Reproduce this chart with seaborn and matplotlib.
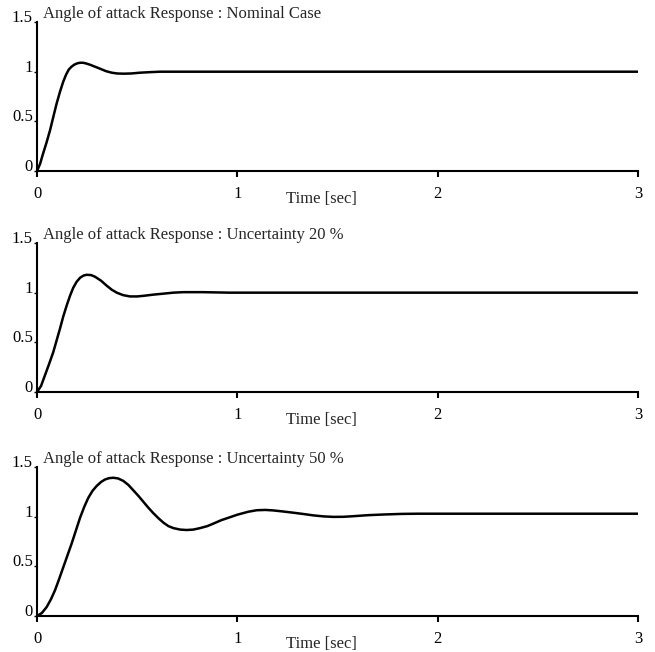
import pandas as pd
import seaborn as sns
import matplotlib
matplotlib.use("Agg")
import matplotlib.pyplot as plt

t_nominal = [0, 0.015, 0.031, 0.048, 0.065, 0.082, 0.098, 0.115, 0.131, 0.145, 0.158,
             0.172, 0.187, 0.202, 0.215, 0.23, 0.245, 0.265, 0.29, 0.315, 0.345,
             0.373, 0.40, 0.431, 0.47, 0.514, 0.56, 0.614, 0.8, 1.2, 1.6, 2.0, 2.5, 3.0]
v_nominal = [0, 0.07, 0.18, 0.29, 0.41, 0.55, 0.68, 0.80, 0.90, 0.97, 1.02,
             1.05, 1.072, 1.085, 1.09, 1.09, 1.083, 1.07, 1.05, 1.03, 1.005,
             0.99, 0.982, 0.98, 0.982, 0.99, 0.995, 1.0, 1.0, 1.0, 1.0, 1.0, 1.0, 1.0]

t_unc20 = [0, 0.02, 0.040, 0.06, 0.081, 0.098, 0.115, 0.131, 0.148, 0.165, 0.181,
           0.198, 0.215, 0.232, 0.248, 0.27, 0.290, 0.32, 0.348, 0.373, 0.398, 0.43,
           0.464, 0.5, 0.531, 0.58, 0.631, 0.68, 0.730, 0.83, 0.96, 1.3, 1.7, 2.1,
           2.5, 3.0]
v_unc20 = [0, 0.06, 0.17, 0.28, 0.40, 0.52, 0.64, 0.76, 0.87, 0.97, 1.05,
           1.11, 1.15, 1.172, 1.18, 1.177, 1.16, 1.12, 1.07, 1.03, 1.0, 0.975,
           0.962, 0.962, 0.968, 0.98, 0.99, 1.0, 1.005, 1.005, 1.0, 1.0, 1.0, 1.0,
           1.0, 1.0]

t_unc50 = [0, 0.024, 0.048, 0.07, 0.090, 0.11, 0.131, 0.152, 0.173, 0.194, 0.215,
           0.236, 0.256, 0.277, 0.298, 0.32, 0.34, 0.36, 0.381, 0.405, 0.431, 0.456,
           0.481, 0.506, 0.531, 0.556, 0.581, 0.606, 0.631, 0.656, 0.681, 0.715,
           0.747, 0.78, 0.814, 0.85, 0.88, 0.92, 0.964, 1.0, 1.055, 1.097, 1.14,
           1.18, 1.23, 1.28, 1.33, 1.38, 1.43, 1.48, 1.53, 1.58, 1.65, 1.73, 1.82,
           1.90, 2.08, 2.4, 2.7, 3.0]
v_unc50 = [0, 0.03, 0.09, 0.17, 0.26, 0.37, 0.49, 0.61, 0.73, 0.86, 0.99,
           1.10, 1.19, 1.26, 1.31, 1.35, 1.375, 1.388, 1.392, 1.385, 1.36, 1.32,
           1.265, 1.21, 1.15, 1.09, 1.035, 0.985, 0.94, 0.905, 0.885, 0.87,
           0.866, 0.87, 0.885, 0.905, 0.93, 0.965, 0.995, 1.02, 1.05, 1.065, 1.068,
           1.063, 1.052, 1.04, 1.027, 1.013, 1.003, 0.998, 0.999, 1.005, 1.015, 1.022, 1.028,
           1.03, 1.03, 1.03, 1.03, 1.03]

titles = ["Angle of attack Response : Nominal Case",
          "Angle of attack Response : Uncertainty 20 %",
          "Angle of attack Response : Uncertainty 50 %"]
x_ticks = [0, 1, 2, 3]
y_ticks = [0, 0.5, 1, 1.5]
y_tick_labels = ["0", "0.5", "1", "1.5"]

sns.set_theme(style="ticks")
plt.rcParams["font.family"] = ["Liberation Serif", "DejaVu Serif"]

fig = plt.figure(figsize=(6.55, 6.52), dpi=100)

series = [(t_nominal, v_nominal), (t_unc20, v_unc20), (t_unc50, v_unc50)]
bottoms = [0.7377, 0.3988, 0.0552]

for (t, v), title, b in zip(series, titles, bottoms):
    ax = fig.add_axes([0.0565, b, 0.9175, 0.2285])
    df = pd.DataFrame({"t": t, "v": v})
    sns.lineplot(data=df, x="t", y="v", ax=ax, color="black", linewidth=1.8, sort=False)

    ax.set_xlim(0, 3)
    ax.set_ylim(0, 1.5)
    sns.despine(ax=ax)
    for s in ["left", "bottom"]:
        ax.spines[s].set_linewidth(1.5)
        ax.spines[s].set_color("black")

    ax.set_xticks(x_ticks)
    ax.set_xticklabels([str(x) for x in x_ticks])
    ax.set_yticks(y_ticks)
    ax.set_yticklabels(y_tick_labels)
    for lab in ax.get_yticklabels():
        lab.set_verticalalignment("baseline")
    ax.tick_params(axis="x", direction="out", length=4, width=1.5, pad=7,
                   labelsize=12, colors="black")
    ax.tick_params(axis="y", direction="out", length=2, width=1, pad=1,
                   labelsize=12, colors="black")

    ax.set_ylabel("")
    ax.set_xlabel("Time [sec]", fontsize=12, va="center")
    ax.xaxis.set_label_coords(0.473, -0.19)

    ax.text(0.0105, 1.0, title, transform=ax.transAxes, fontsize=12,
            ha="left", va="bottom")

fig.savefig("out.png", dpi=100, facecolor="white")
